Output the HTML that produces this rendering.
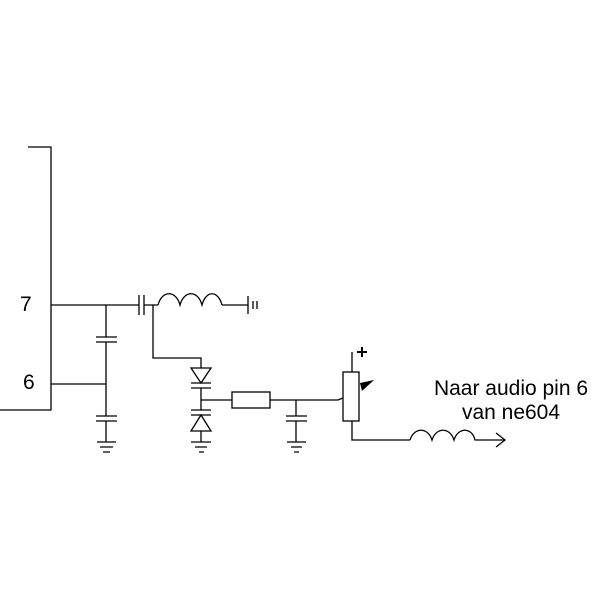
<!DOCTYPE html>
<html><head><style>body{margin:0;background:#fff}svg{display:block}</style></head><body>
<svg width="600" height="600" viewBox="0 0 600 600" xmlns="http://www.w3.org/2000/svg" font-family="Liberation Sans, sans-serif">
<g stroke="#000" stroke-width="1.3" fill="none">
<path d="M28 147H51V410H0"/>
<path d="M51 305H139M144 305H158M222 305H248"/>
<path d="M51 384H106M106 305V337M106 342V416M106 421V442"/>
<path d="M96 337H117M96 342H117M96 416H117M96 421H117"/>
<path d="M97 442H116M100 447H113M103 452H110"/>
<path d="M139 295V315M144 295V315"/>
<path d="M158 305C162 290 176 290 180 305C184 290 198 290 202 305C206 290 218 290 222 305"/>
<path d="M248 296V314M253 301V309M257 301V309"/>
<path d="M153 305V358H201V368"/>
<path d="M191 368H211L201 383Z"/>
<path d="M191 383H211M191 388H211M201 388V410M191 410H211M191 415H211"/>
<path d="M201 415L191 431H211Z"/>
<path d="M201 431V442M191 442H211M195 447H207M199 452H204"/>
<path d="M201 400H232M270 400H338L343 398"/>
<rect x="232" y="392" width="38" height="16"/>
<path d="M296 400V416M286 416H307M286 421H307M296 421V442M287 442H306M291 447H302M294 452H299"/>
<rect x="343" y="372" width="16" height="49"/>
<path d="M352 352V372M352 421V440H410"/>
<path d="M410 440C414 427 428 427 432 440C436 427 450 427 454 440C458 427 472 427 475 440H505M496 433L505 440L496 447"/>
</g>
<path d="M357 352H367M362 347V357" stroke="#000" stroke-width="2" fill="none"/>
<path d="M360 383L374 380L362 391Z" fill="#000"/>
<g font-size="21" fill="#000">
<text x="20" y="311">7</text>
<text x="23" y="389">6</text>
<text x="511" y="395" text-anchor="middle">Naar audio pin 6</text>
<text x="511" y="419" text-anchor="middle">van ne604</text>
</g>
</svg>
</body></html>
